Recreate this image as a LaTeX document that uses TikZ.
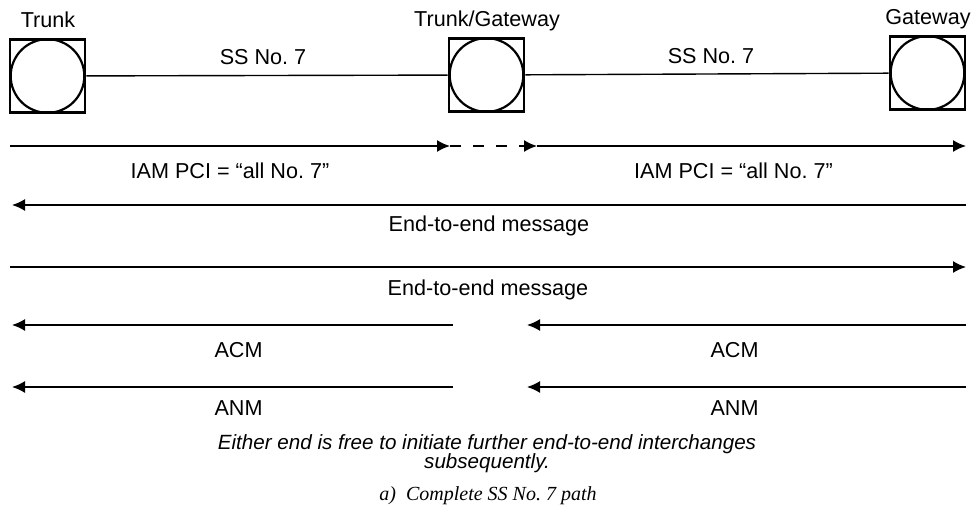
\documentclass[tikz,border=0pt]{standalone}
\usepackage{fontspec}
\setmainfont{Liberation Serif}
\setsansfont{Liberation Sans}
\usetikzlibrary{arrows.meta,positioning}
\tikzset{>=Latex}

\begin{document}
\begin{tikzpicture}[x=0.5pt,y=-0.5pt,font=\sffamily\fontsize{10.8}{13}\selectfont]
	\useasboundingbox (0,0) rectangle (975,524);

	% Setup the styles for the exchanges and messages
	\tikzset{exchange/.style={draw=black,
	                          line width=1.3pt,
	                          minimum width=37.5pt,
	                          minimum height=36.5pt,
	                          inner sep=0pt,
	                          path picture={\draw[line width=1.1pt] (path picture bounding box.center) circle (18.4pt);}},
	         msg/.style={line width=0.8pt, ->, >={Latex[length=6.5pt,width=6pt]}},
	         lbl/.style={below=#1, inner sep=0pt},
	         lbl/.default=8pt}

	% Draw the exchanges
	\node[exchange] at (47.5, 76)  (trunk) {};
	\node[exchange] at (486.5, 75) (tgw)   {};
	\node[exchange] at (927.5, 73) (gw)    {};
	\node[anchor=base] at (48, 28)  (trunklbl) {Trunk};
	\node[anchor=base] at (487, 27) (tgwlbl)   {Trunk/Gateway};
	\node[anchor=base] at (928, 25) (gwlbl)    {Gateway};

	% Signalling links
	\draw[line width=0.7pt] (trunk) -- node[above=5pt, inner sep=0pt, xshift=-2pt] (ss1) {SS No.\ 7} (tgw)
	                        (tgw)   -- node[above=5pt, inner sep=0pt, xshift=2pt]  (ss2) {SS No.\ 7} (gw);

	% Message rows
	\coordinate (r1a) at (10, 146);  \coordinate (r1b) at (450, 146);
	\coordinate (r1c) at (537, 146); \coordinate (r1d) at (966, 146);
	\coordinate (r2a) at (12, 205);  \coordinate (r2b) at (966, 205);
	\coordinate (r3a) at (10, 267);  \coordinate (r3b) at (966, 267);
	\coordinate (r4a) at (12, 325);  \coordinate (r4b) at (453, 325);
	\coordinate (r4c) at (527, 325); \coordinate (r4d) at (966, 325);
	\coordinate (r5a) at (12, 387);  \coordinate (r5b) at (453, 387);
	\coordinate (r5c) at (527, 387); \coordinate (r5d) at (966, 387);

	% Connect the rows with arrows
	\path[msg]
	    (r1a) edge node[lbl] (iam1) {IAM PCI = “all No.\ 7”} (r1b)
	    (r1b) edge[dash pattern=on 5.5pt off 6pt] (r1c)
	    (r1c) edge node[lbl, xshift=-9pt] (iam2) {IAM PCI = “all No.\ 7”} (r1d)
	    (r2b) edge node[lbl=5pt] (e2e1) {End-to-end message} (r2a)
	    (r3a) edge node[lbl=6pt] (e2e2) {End-to-end message} (r3b)
	    (r4b) edge node[lbl=8.5pt, xshift=3pt] (acm1) {ACM} (r4a)
	    (r4d) edge node[lbl=8.5pt, xshift=-6pt] (acm2) {ACM} (r4c)
	    (r5b) edge node[lbl=6.5pt, xshift=3pt] (anm1) {ANM} (r5a)
	    (r5d) edge node[lbl=6.5pt, xshift=-6pt] (anm2) {ANM} (r5c);

	% Notes
	\node[anchor=base, font=\sffamily\itshape\fontsize{10.3}{12}\selectfont] at (487, 449) (note1)
	    {Either end is free to initiate further end-to-end interchanges};
	\node[anchor=base, font=\sffamily\itshape\fontsize{10.3}{12}\selectfont] at (487, 468) (note2)
	    {subsequently.};
	\node[anchor=base, font=\rmfamily\itshape\fontsize{10}{12}\selectfont] at (488, 500) (caption)
	    {a)\ \ Complete SS No.\ 7 path};
\end{tikzpicture}
\end{document}
